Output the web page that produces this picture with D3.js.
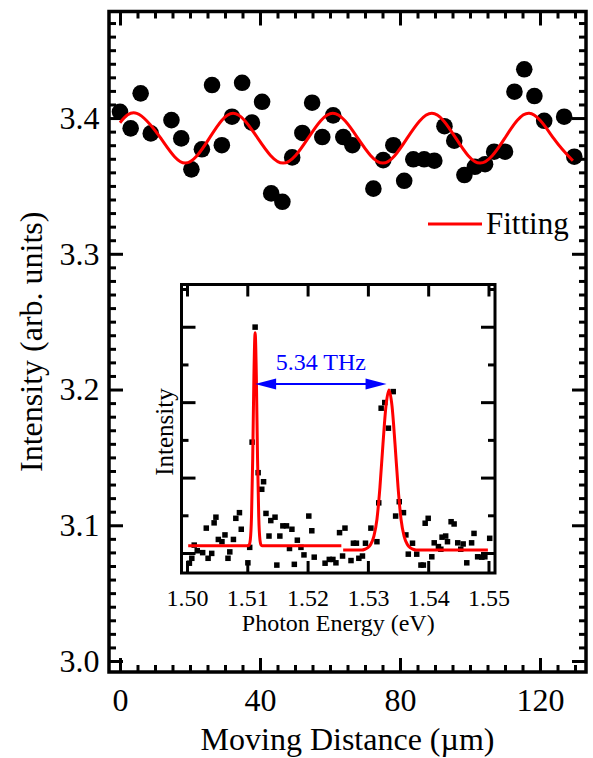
<!DOCTYPE html>
<html>
<head>
<meta charset="utf-8">
<script src="https://cdn.jsdelivr.net/npm/d3@7"></script>
<style>
  body { margin: 0; background: #fff; }
  svg { display: block; }
</style>
</head>
<body>
<div id="chart"></div>
<script>
// Main scan: intensity against moving distance
const distance = [0, 3.05, 5.9, 8.8, 14.7, 17.5, 20.4, 23.4, 26.3, 29.1, 32.0, 34.9, 37.7, 40.6,
  43.2, 46.4, 49.2, 52.1, 54.9, 57.8, 60.9, 63.8, 66.4, 72.4, 75.2, 78.1, 81.2, 83.8, 86.9,
  89.8, 92.7, 95.5, 98.4, 101.4, 104.3, 106.9, 110.0, 112.7, 115.5, 118.4, 121.2, 126.9, 129.8];
const intensity = [3.4046, 3.3924, 3.4182, 3.3887, 3.3985, 3.385, 3.3622, 3.377, 3.4243, 3.380,
  3.401, 3.426, 3.3966, 3.412, 3.3445, 3.3383, 3.371, 3.389, 3.4113, 3.386, 3.402, 3.386, 3.380,
  3.348, 3.369, 3.380, 3.3538, 3.3696, 3.3696, 3.3686, 3.394, 3.3833, 3.358, 3.3641, 3.366,
  3.3752, 3.3752, 3.4194, 3.4359, 3.4162, 3.398, 3.401, 3.3715];

const fitDistance = [0, 4.8, 11.7, 18.6, 25.5, 32.3, 39.4, 46.6, 53.7, 60.8, 68.0, 75.1, 82.0,
  89.1, 96.0, 102.9, 109.9, 116.9, 123.9, 129.4];
const fitIntensity = [3.3966, 3.4035, 3.385, 3.3668, 3.385, 3.4035, 3.385, 3.3668, 3.385, 3.4035,
  3.385, 3.3668, 3.385, 3.4035, 3.385, 3.3668, 3.385, 3.4035, 3.385, 3.3685];

const xMajor = [0, 40, 80, 120];
const yMajor = [3.0, 3.1, 3.2, 3.3, 3.4];

// Inset: spectrum
const energy = [1.5004, 1.5008, 1.5012, 1.5017, 1.5026, 1.5032, 1.5035, 1.5041, 1.5045, 1.5048,
  1.5052, 1.5058, 1.5063, 1.5068, 1.5071, 1.5077, 1.5081, 1.5087, 1.5090, 1.5101, 1.5104, 1.5108,
  1.5113, 1.5118, 1.5124, 1.5127, 1.5131, 1.5136, 1.5139, 1.5146, 1.5149, 1.5154, 1.5159, 1.5165,
  1.5170, 1.5174, 1.5178, 1.5183, 1.5189, 1.5194, 1.5202, 1.5207, 1.5211, 1.5229, 1.5236, 1.5242,
  1.5247, 1.5253, 1.5258, 1.5262, 1.5272, 1.5276, 1.5281, 1.5285, 1.5291, 1.5296, 1.5305, 1.5315,
  1.5318, 1.5322, 1.5328, 1.5334, 1.5342, 1.5346, 1.5352, 1.5359, 1.5363, 1.5367, 1.5374, 1.5381,
  1.5388, 1.5392, 1.5395, 1.5400, 1.5406, 1.5410, 1.5417, 1.5421, 1.5423, 1.5429, 1.5432, 1.5438,
  1.5443, 1.5449, 1.5454, 1.5458, 1.5464, 1.5472, 1.5476, 1.5482, 1.5489, 1.5494, 1.5502];
const counts = [-0.27, -0.14, 0.21, 0.06, 0.01, 0.66, -0.14, -0.01, 0.80, 0.95,
  0.36, 0.30, 0.48, -0.14, 0.03, 0.36, 0.92, 1.07, 0.63, -0.26, 0.15, 2.94,
  5.99, 2.13, 1.69, 1.89, 1.05, 0.45, 0.86, 0.95, -0.32, 0.45, 0.72, 0.72,
  0.12, 0.63, -0.30, 0.34, 0.15, -0.05, 0.98, 0.59, -0.11, -0.27, -0.17, -0.17,
  -0.26, 0.54, -0.08, 0.66, -0.20, 0.26, 0.26, -0.14, -0.08, 0.26, 0.66, 0.30,
  1.33, 3.84, 3.99, 3.31, 4.28, 0.98, 1.36, 1.07, 0.48, -0.03, 0.26, -0.03,
  -0.32, -0.32, 0.79, 0.92, -0.10, 0.27, 0.17, 0.10, 0.42, 0.45, 0.30, 0.83,
  0.77, 0.27, 0.10, 0.24, -0.26, 0.27, 0.52, -0.10, -0.11, -0.10, 0.39];

// two fitted peaks
const peak1Energy = [1.5002, 1.5095, 1.5101, 1.5103, 1.5105, 1.5107, 1.5109, 1.5111, 1.5113,
  1.5115, 1.5117, 1.5119, 1.5121, 1.5123, 1.5125, 1.5256];
const peak1Counts = [0.19, 0.19, 0.19, 0.21, 0.35, 0.96, 2.51, 4.71, 5.84,
  4.71, 2.51, 0.96, 0.35, 0.21, 0.19, 0.19];
const peak2Energy = [1.5259, 1.5290, 1.5295, 1.5300, 1.5305, 1.5310, 1.5315, 1.5320, 1.5325,
  1.5330, 1.5335, 1.5340, 1.5345, 1.5350, 1.5355, 1.5360, 1.5365, 1.5370, 1.5375, 1.5380, 1.5499];
const peak2Counts = [0.08, 0.08, 0.10, 0.14, 0.24, 0.45, 0.89, 1.75, 2.89,
  3.90, 4.32, 3.90, 2.89, 1.75, 0.89, 0.45, 0.24, 0.14, 0.10, 0.08, 0.08];

const insetXTicks = [1.50, 1.51, 1.52, 1.53, 1.54, 1.55];
const insetYTicks = [0, 1, 2, 3, 4, 5, 6, 7];
const arrowEnergy = [1.5113, 1.5331];
const arrowLevel = 4.48;
const arrowLabel = "5.34 THz";

const W = 593, H = 758;
const serif = "'Liberation Serif', 'Times New Roman', serif";

const svg = d3.select("#chart").append("svg")
  .attr("width", W).attr("height", H)
  .style("font-family", serif);

// main plot box
const box = { left: 109, right: 586, top: 11.5, bottom: 672 };
const x = d3.scaleLinear().domain([-3.14, 133.14]).range([box.left, box.right]);
const y = d3.scaleLinear().domain([2.9919, 3.4785]).range([box.bottom, box.top]);

// draws inward ticks on one side
function ticks(g, axis, at, values, size, fmt, fontSize, pad) {
  const a = g.append("g").attr("transform", at)
    .call(axis.tickValues(values).tickSize(size).tickPadding(pad).tickFormat(fmt || ""));
  a.select(".domain").remove();
  a.selectAll("line").attr("stroke-width", 3).attr("stroke", "#000");
  a.attr("font-family", serif).attr("font-size", fontSize);
  a.selectAll("text").attr("fill", "#000");
  return a;
}

const xMinor = d3.range(0, 135, 5).filter(v => !xMajor.includes(v));
const yMinor = d3.range(300, 348).map(v => v / 100).filter(v => Math.round(v * 100) % 10 !== 0);

const main = svg.append("g");
ticks(main, d3.axisBottom(x), `translate(0,${box.bottom})`, xMinor, -7, null, 32, 0);
ticks(main, d3.axisBottom(x), `translate(0,${box.bottom})`, xMajor, -14, d3.format("d"), 32, 16);
ticks(main, d3.axisTop(x), `translate(0,${box.top})`, xMinor, -7, null, 32, 0);
ticks(main, d3.axisTop(x), `translate(0,${box.top})`, xMajor, -14, null, 32, 0);
ticks(main, d3.axisLeft(y), `translate(${box.left},0)`, yMinor, -7, null, 32, 0);
ticks(main, d3.axisLeft(y), `translate(${box.left},0)`, yMajor, -14, d3.format(".1f"), 32, 9.5);
ticks(main, d3.axisRight(y), `translate(${box.right},0)`, yMinor, -7, null, 32, 0);
ticks(main, d3.axisRight(y), `translate(${box.right},0)`, yMajor, -14, null, 32, 0);

main.append("rect")
  .attr("x", box.left).attr("y", box.top)
  .attr("width", box.right - box.left).attr("height", box.bottom - box.top)
  .attr("fill", "none").attr("stroke", "#000").attr("stroke-width", 3.5);

main.selectAll("circle.pt")
  .data(distance.map((d, i) => [d, intensity[i]]))
  .join("circle")
  .attr("class", "pt")
  .attr("cx", d => x(d[0])).attr("cy", d => y(d[1]))
  .attr("r", 8.3).attr("fill", "#000");

main.append("path")
  .datum(fitDistance.map((d, i) => [d, fitIntensity[i]]))
  .attr("d", d3.line().x(d => x(d[0])).y(d => y(d[1])).curve(d3.curveNatural))
  .attr("fill", "none").attr("stroke", "#ff0000").attr("stroke-width", 3);

// legend
main.append("line").attr("x1", 428).attr("x2", 482).attr("y1", 224).attr("y2", 224)
  .attr("stroke", "#ff0000").attr("stroke-width", 3);
main.append("text").attr("x", 486).attr("y", 234)
  .attr("font-size", 31).text("Fitting");

// axis titles
svg.append("text")
  .attr("x", (box.left + box.right) / 2).attr("y", 750)
  .attr("text-anchor", "middle").attr("font-size", 32)
  .text("Moving Distance (\u00b5m)");
svg.append("text")
  .attr("transform", `translate(42,${(box.top + box.bottom) / 2}) rotate(-90)`)
  .attr("text-anchor", "middle").attr("font-size", 32)
  .text("Intensity (arb. units)");

// inset
const ib = { left: 181.5, right: 495, top: 284.5, bottom: 573 };
const ix = d3.scaleLinear().domain([1.49909, 1.55108]).range([ib.left, ib.right]);
const iy = d3.scaleLinear().domain([-0.53, 7.12]).range([ib.bottom, ib.top]);

const inset = svg.append("g");
inset.append("rect")
  .attr("x", ib.left).attr("y", ib.top)
  .attr("width", ib.right - ib.left).attr("height", ib.bottom - ib.top)
  .attr("fill", "#fff");

const iyMajor = insetYTicks.filter(v => v % 2 === 0);
const iyMinor = insetYTicks.filter(v => v % 2 === 1);
ticks(inset, d3.axisBottom(ix), `translate(0,${ib.bottom})`, insetXTicks, -12, d3.format(".2f"), 24, 15.5);
ticks(inset, d3.axisTop(ix), `translate(0,${ib.top})`, insetXTicks, -12, null, 24, 0);
ticks(inset, d3.axisLeft(iy), `translate(${ib.left},0)`, iyMajor, -14, null, 24, 0);
ticks(inset, d3.axisLeft(iy), `translate(${ib.left},0)`, iyMinor, -7, null, 24, 0);
ticks(inset, d3.axisRight(iy), `translate(${ib.right},0)`, iyMajor, -14, null, 24, 0);
ticks(inset, d3.axisRight(iy), `translate(${ib.right},0)`, iyMinor, -7, null, 24, 0);

inset.append("rect")
  .attr("x", ib.left).attr("y", ib.top)
  .attr("width", ib.right - ib.left).attr("height", ib.bottom - ib.top)
  .attr("fill", "none").attr("stroke", "#000").attr("stroke-width", 3);

const sq = 5.5;
inset.selectAll("rect.sq")
  .data(energy.map((d, i) => [d, counts[i]]))
  .join("rect")
  .attr("class", "sq")
  .attr("x", d => ix(d[0]) - sq / 2).attr("y", d => iy(d[1]) - sq / 2)
  .attr("width", sq).attr("height", sq).attr("fill", "#000");

const peakLine = d3.line().x(d => ix(d[0])).y(d => iy(d[1])).curve(d3.curveMonotoneX);
[[peak1Energy, peak1Counts], [peak2Energy, peak2Counts]].forEach(([es, cs]) => {
  inset.append("path")
    .datum(es.map((e, i) => [e, cs[i]]))
    .attr("d", peakLine)
    .attr("fill", "none").attr("stroke", "#ff0000").attr("stroke-width", 3)
    .attr("stroke-linejoin", "round");
});

// blue double arrow between peaks
const ax0 = ix(arrowEnergy[0]), ax1 = ix(arrowEnergy[1]), ay = iy(arrowLevel);
const headL = 21, headH = 5.5;
inset.append("line")
  .attr("x1", ax0 + headL - 2).attr("x2", ax1 - headL + 2).attr("y1", ay).attr("y2", ay)
  .attr("stroke", "#0000ff").attr("stroke-width", 2);
inset.append("path")
  .attr("d", `M${ax0},${ay}L${ax0 + headL},${ay - headH}L${ax0 + headL},${ay + headH}Z`)
  .attr("fill", "#0000ff");
inset.append("path")
  .attr("d", `M${ax1},${ay}L${ax1 - headL},${ay - headH}L${ax1 - headL},${ay + headH}Z`)
  .attr("fill", "#0000ff");
inset.append("text")
  .attr("x", (ax0 + ax1) / 2).attr("y", iy(4.86))
  .attr("text-anchor", "middle").attr("font-size", 24).attr("fill", "#0000ff")
  .text(arrowLabel);

// inset titles
inset.append("text")
  .attr("x", (ib.left + ib.right) / 2).attr("y", 631)
  .attr("text-anchor", "middle").attr("font-size", 24)
  .text("Photon Energy (eV)");
inset.append("text")
  .attr("transform", `translate(173,432) rotate(-90)`)
  .attr("text-anchor", "middle").attr("font-size", 25)
  .text("Intensity");
</script>
</body>
</html>
